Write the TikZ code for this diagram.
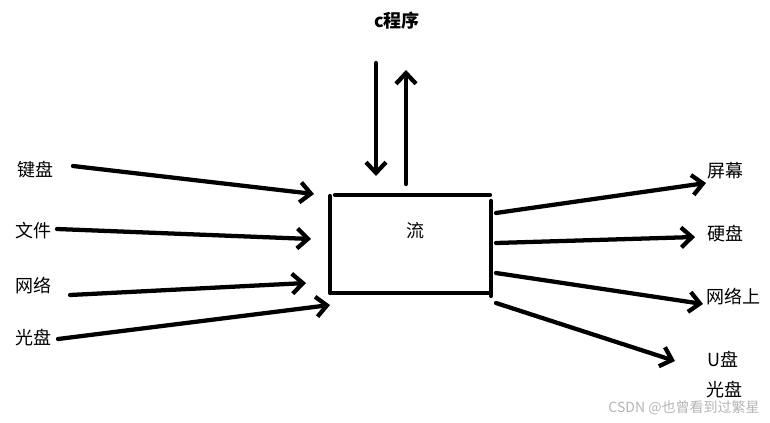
\documentclass[tikz,border=0pt]{standalone}
\usepackage{fontspec}
\setmainfont{Noto Sans CJK SC}
\usepackage{tikz}
\usetikzlibrary{arrows.meta}
\definecolor{mark}{HTML}{B4B4B4}

\begin{document}
\begin{tikzpicture}[x=0.75pt,y=-0.75pt,
  flow/.style={line width=3.2pt,line cap=round,-{Straight Barb[length=8pt,width=15pt]}},
  rim/.style={line width=3.2pt,line cap=round},
  lbl/.style={font=\fontsize{13.5}{15}\selectfont,inner sep=0pt}]
  \useasboundingbox (0,0) rectangle (770,422);
  % labels
  \node[lbl,font=\fontsize{13.5}{15}\selectfont\bfseries] (prog) at (397,21) {c程序};
  \node[lbl] (kbd) at (35,170) {键盘};
  \node[lbl] (file) at (34,231) {文件};
  \node[lbl] (netin) at (34,286) {网络};
  \node[lbl] (cdin) at (34,338) {光盘};
  \node[lbl] (scr) at (725,171) {屏幕};
  \node[lbl] (hdd) at (725,234) {硬盘};
  \node[lbl] (netout) at (733,297) {网络上};
  \node[lbl] (usb) at (723,359) {U盘};
  \node[lbl] (cdout) at (724,390) {光盘};
  \node[lbl] (stream) at (415,231) {流};
  \node[font=\fontsize{10.5}{12}\selectfont,text=mark,inner sep=0pt] (wm) at (684,408) {CSDN @也曾看到过繁星};
  % the box, drawn by hand
  \draw[rim] (330,196) -- (330,293);
  \draw[rim] (335,195) -- (490,195);
  \draw[rim] (491,201) -- (491,296);
  \draw[rim] (332,293) -- (490,293);
  % end points
  \coordinate (kbdS) at (73,166);   \coordinate (kbdE) at (314,194);
  \coordinate (fileS) at (57,229);  \coordinate (fileE) at (311,239);
  \coordinate (netinS) at (70,295); \coordinate (netinE) at (306,283);
  \coordinate (cdinS) at (58,339);  \coordinate (cdinE) at (330,305);
  \coordinate (downS) at (376,63);  \coordinate (downE) at (376,176);
  \coordinate (upS) at (406,184);   \coordinate (upE) at (406,70);
  \coordinate (scrS) at (496,213);  \coordinate (scrE) at (706,183);
  \coordinate (hddS) at (496,243);  \coordinate (hddE) at (695,237);
  \coordinate (netoutS) at (496,273); \coordinate (netoutE) at (703,304);
  \coordinate (usbS) at (496,303);  \coordinate (usbE) at (675,361);
  % arrows
  \draw[flow] (kbdS) -- (kbdE);
  \draw[flow] (fileS) -- (fileE);
  \draw[flow] (netinS) -- (netinE);
  \draw[flow] (cdinS) -- (cdinE);
  \draw[flow] (downS) -- (downE);
  \draw[flow] (upS) -- (upE);
  \draw[flow] (scrS) -- (scrE);
  \draw[flow] (hddS) -- (hddE);
  \draw[flow] (netoutS) -- (netoutE);
  \draw[flow] (usbS) -- (usbE);
\end{tikzpicture}
\end{document}
